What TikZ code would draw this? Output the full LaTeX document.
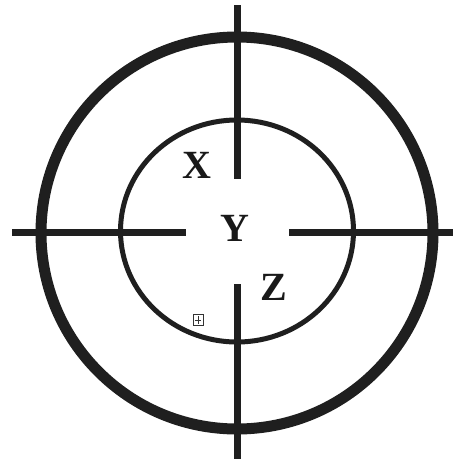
\documentclass[tikz,border=0pt]{standalone}
\usepackage{fontspec}
\setmainfont{Liberation Serif}
\begin{document}
\begin{tikzpicture}[x=1pt,y=-1pt,
  bar/.style={line width=7pt,black!88},
  ring/.style={black!88},
  lbl/.style={font=\fontsize{40}{40}\selectfont\bfseries,anchor=base,inner sep=0pt,text=black!90},
  tinybox/.style={draw,line width=0.7pt,minimum width=10pt,minimum height=11pt,inner sep=0pt,black!80}]
\useasboundingbox (0,0) rectangle (456,459);
\fill[white] (0,0) rectangle (456,459);
% rings
\draw[ring,line width=11pt] (237,233) circle[radius=196];
\draw[ring,line width=5pt] (237,231) ellipse[x radius=116.5,y radius=111];
% cross bars
\draw[bar] (237,5) -- (237,179);
\draw[bar] (237,284) -- (237,459);
\draw[bar] (12,232) -- (186,232);
\draw[bar] (289,232) -- (453,232);
% labels
\node[lbl] (x) at (197,178) {X};
\node[lbl] (y) at (235,241) {Y};
\node[lbl] (z) at (274,300) {Z};
% small boxed plus
\node[tinybox] (bx) at (198,320) {};
\draw[line width=0.7pt,black!80] ([yshift=-2pt]bx.north) -- ([yshift=2pt]bx.south);
\draw[line width=0.7pt,black!80] ([xshift=2pt]bx.west) -- ([xshift=-2pt]bx.east);
\end{tikzpicture}
\end{document}
